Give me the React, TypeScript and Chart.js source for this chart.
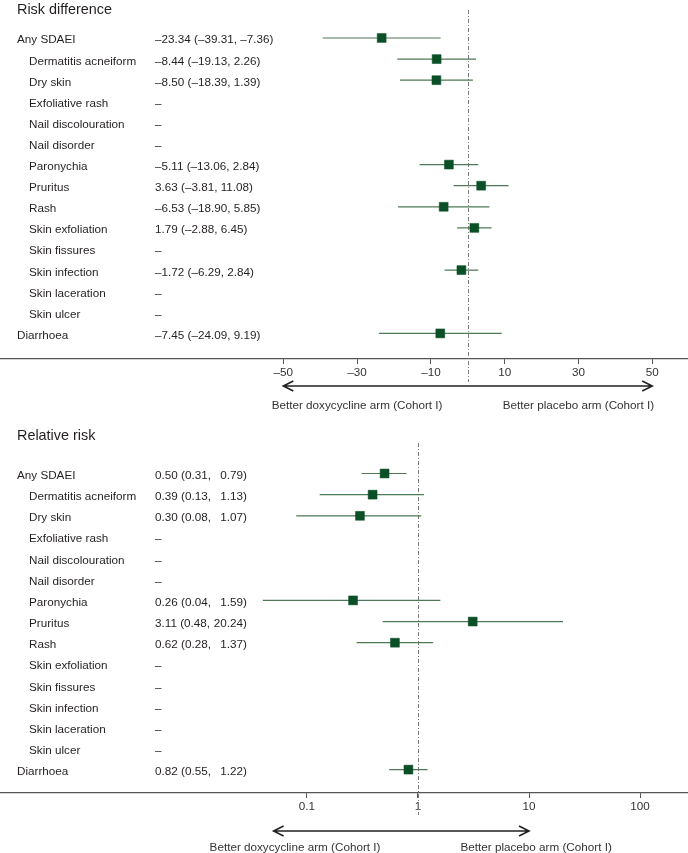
import React, { useEffect, useRef } from "react";
import { Chart, registerables } from "chart.js";

Chart.register(...registerables);

const outcomes = [
  "Any SDAEI",
  "Dermatitis acneiform",
  "Dry skin",
  "Exfoliative rash",
  "Nail discolouration",
  "Nail disorder",
  "Paronychia",
  "Pruritus",
  "Rash",
  "Skin exfoliation",
  "Skin fissures",
  "Skin infection",
  "Skin laceration",
  "Skin ulcer",
  "Diarrhoea",
];
const indented = [false, true, true, true, true, true, true, true, true, true, true, true, true, true, false];

const rdEstimate = [-23.34, -8.44, -8.5, null, null, null, -5.11, 3.63, -6.53, 1.79, null, -1.72, null, null, -7.45];
const rdLower = [-39.31, -19.13, -18.39, null, null, null, -13.06, -3.81, -18.9, -2.88, null, -6.29, null, null, -24.09];
const rdUpper = [-7.36, 2.26, 1.39, null, null, null, 2.84, 11.08, 5.85, 6.45, null, 2.84, null, null, 9.19];

const rrEstimate = [0.5, 0.39, 0.3, null, null, null, 0.26, 3.11, 0.62, null, null, null, null, null, 0.82];
const rrLower = [0.31, 0.13, 0.08, null, null, null, 0.04, 0.48, 0.28, null, null, null, null, null, 0.55];
const rrUpper = [0.79, 1.13, 1.07, null, null, null, 1.59, 20.24, 1.37, null, null, null, null, null, 1.22];

const rdTicks = [-50, -30, -10, 10, 30, 50];
const rrTicks = [0.1, 1, 10, 100];

const arrowLeftText = "Better doxycycline arm (Cohort I)";
const arrowRightText = "Better placebo arm (Cohort I)";

const FONT = "'Liberation Sans', Arial, Helvetica, sans-serif";
const TEXT = "#231f20";
const SQUARE = "#0b4f26";
const CI = "#4e7a58";
const DASH = "#7a7a7a";
const W = 688;

const dash = (v: number, d: number) => (v < 0 ? "\u2013" : "") + Math.abs(v).toFixed(d);

type Panel = {
  title: string;
  est: (number | null)[];
  lo: (number | null)[];
  hi: (number | null)[];
  kind: "linear" | "logarithmic";
  xMin: number;
  xMax: number;
  ticks: number[];
  height: number;
  axisHeight: number;
  yMin: number;
  yMax: number;
  ref: number;
  refTop: number;
  refBottom: number;
  arrowFrom: number;
  arrowTo: number;
  arrowY: number;
  leftLabelAt: number;
  rightLabelAt: number;
  labelBaseline: number;
  titleBaseline: number;
  split: boolean;
};

function makePlugin(p: Panel) {
  return {
    id: "forestText",
    beforeDatasetsDraw(chart: any) {
      const ctx = chart.ctx;
      const xs = chart.scales.x;
      const x = Math.round(xs.getPixelForValue(p.ref)) + 0.5;
      ctx.save();
      ctx.strokeStyle = DASH;
      ctx.lineWidth = 1;
      ctx.setLineDash([4, 2, 1, 2]);
      ctx.beginPath();
      ctx.moveTo(x, p.refTop);
      ctx.lineTo(x, p.refBottom);
      ctx.stroke();
      ctx.restore();
    },
    afterDraw(chart: any) {
      const ctx = chart.ctx;
      const xs = chart.scales.x;
      const ys = chart.scales.y;
      ctx.save();
      ctx.fillStyle = TEXT;
      ctx.textBaseline = "alphabetic";
      ctx.textAlign = "left";
      ctx.font = `14.4px ${FONT}`;
      ctx.fillText(p.title, 17, p.titleBaseline);

      ctx.font = `11.7px ${FONT}`;
      outcomes.forEach((name, i) => {
        const y = ys.getPixelForValue(i) + 5.5;
        ctx.textAlign = "left";
        ctx.fillText(name, indented[i] ? 29 : 17, y);
        const e = p.est[i];
        const l = p.lo[i];
        const h = p.hi[i];
        if (e == null || l == null || h == null) {
          ctx.fillText("\u2013", 155, y);
        } else if (!p.split) {
          ctx.fillText(`${dash(e, 2)} (${dash(l, 2)}, ${dash(h, 2)})`, 155, y);
        } else {
          ctx.fillText(`${dash(e, 2)} (${dash(l, 2)},`, 155, y);
          ctx.textAlign = "right";
          ctx.fillText(`${dash(h, 2)})`, 247, y);
        }
      });

      // arrow
      const a0 = xs.getPixelForValue(p.arrowFrom);
      const a1 = xs.getPixelForValue(p.arrowTo);
      ctx.strokeStyle = "#222";
      ctx.lineWidth = 1.6;
      ctx.beginPath();
      ctx.moveTo(a0, p.arrowY);
      ctx.lineTo(a1, p.arrowY);
      ctx.moveTo(a0 + 10, p.arrowY - 5);
      ctx.lineTo(a0, p.arrowY);
      ctx.lineTo(a0 + 10, p.arrowY + 5);
      ctx.moveTo(a1 - 10, p.arrowY - 5);
      ctx.lineTo(a1, p.arrowY);
      ctx.lineTo(a1 - 10, p.arrowY + 5);
      ctx.stroke();

      ctx.fillStyle = "#333";
      ctx.textAlign = "center";
      ctx.fillText(arrowLeftText, xs.getPixelForValue(p.leftLabelAt), p.labelBaseline);
      ctx.fillText(arrowRightText, xs.getPixelForValue(p.rightLabelAt), p.labelBaseline);
      ctx.restore();
    },
  };
}

function ForestPanel({ p }: { p: Panel }) {
  const ref = useRef<HTMLCanvasElement | null>(null);
  useEffect(() => {
    if (!ref.current) return;
    const points: any[] = [];
    const segs: any[] = [];
    p.est.forEach((e, i) => {
      const l = p.lo[i];
      const h = p.hi[i];
      if (e == null || l == null || h == null) return;
      points.push({ x: e, y: i });
      segs.push({ x: l, y: i }, { x: h, y: i }, { x: h, y: null });
    });
    const chart = new Chart(ref.current, {
      type: "scatter",
      data: {
        datasets: [
          {
            data: points,
            pointStyle: "rect",
            pointRadius: 6.3,
            pointBackgroundColor: SQUARE,
            pointBorderColor: SQUARE,
            pointBorderWidth: 0.5,
            showLine: false,
          },
          {
            data: segs,
            showLine: true,
            spanGaps: false,
            borderColor: CI,
            borderWidth: 1.2,
            pointRadius: 0,
          },
        ],
      } as any,
      options: {
        responsive: false,
        animation: false,
        devicePixelRatio: 1,
        layout: { padding: 0, autoPadding: false },
        events: [],
        plugins: {
          legend: { display: false },
          tooltip: { enabled: false },
          title: { display: false },
        },
        scales: {
          x: {
            type: p.kind,
            min: p.xMin,
            max: p.xMax,
            afterBuildTicks: (s: any) => {
              s.ticks = p.ticks.map((v) => ({ value: v }));
            },
            afterFit: (s: any) => {
              s.height = p.axisHeight;
            },
            grid: {
              drawOnChartArea: false,
              drawTicks: true,
              tickLength: 5,
              color: "#555",
              lineWidth: 1,
            },
            border: { display: true, color: "#555", width: 1.2 },
            ticks: {
              color: "#333",
              font: { family: FONT, size: 11.7 },
              padding: 2,
              maxRotation: 0,
              autoSkip: false,
              callback: (v: any) => (Number(v) < 0 ? "\u2013" + Math.abs(Number(v)) : String(v)),
            },
          },
          y: {
            type: "linear",
            display: false,
            reverse: true,
            min: p.yMin,
            max: p.yMax,
          },
        },
      } as any,
      plugins: [makePlugin(p)],
    });
    return () => chart.destroy();
  }, [p]);
  return <canvas ref={ref} width={W} height={p.height} style={{ display: "block" }} />;
}

const rdPanel: Panel = {
  title: "Risk difference",
  est: rdEstimate,
  lo: rdLower,
  hi: rdUpper,
  kind: "linear",
  xMin: -126.8,
  xMax: 59.7,
  ticks: rdTicks,
  height: 425,
  axisHeight: 66,
  yMin: -1.8,
  yMax: 15.213,
  ref: 0,
  refTop: 10,
  refBottom: 382,
  arrowFrom: -50,
  arrowTo: 50,
  arrowY: 386,
  leftLabelAt: -30,
  rightLabelAt: 30,
  labelBaseline: 409,
  titleBaseline: 13.5,
  split: false,
};

const rrPanel: Panel = {
  title: "Relative risk",
  est: rrEstimate,
  lo: rrLower,
  hi: rrUpper,
  kind: "logarithmic",
  xMin: 0.0001716,
  xMax: 270.6,
  ticks: rrTicks,
  height: 428,
  axisHeight: 60,
  yMin: -2.293,
  yMax: 15.106,
  ref: 1,
  refTop: 18,
  refBottom: 390,
  arrowFrom: 0.05,
  arrowTo: 10,
  arrowY: 406,
  leftLabelAt: 0.078,
  rightLabelAt: 11.6,
  labelBaseline: 426,
  titleBaseline: 15,
  split: true,
};

export default function App() {
  useEffect(() => {
    document.body.style.margin = "0";
    document.body.style.overflow = "hidden";
    document.body.style.background = "#fff";
  }, []);
  return (
    <div style={{ width: W, height: 853, background: "#fff" }}>
      <ForestPanel p={rdPanel} />
      <ForestPanel p={rrPanel} />
    </div>
  );
}
